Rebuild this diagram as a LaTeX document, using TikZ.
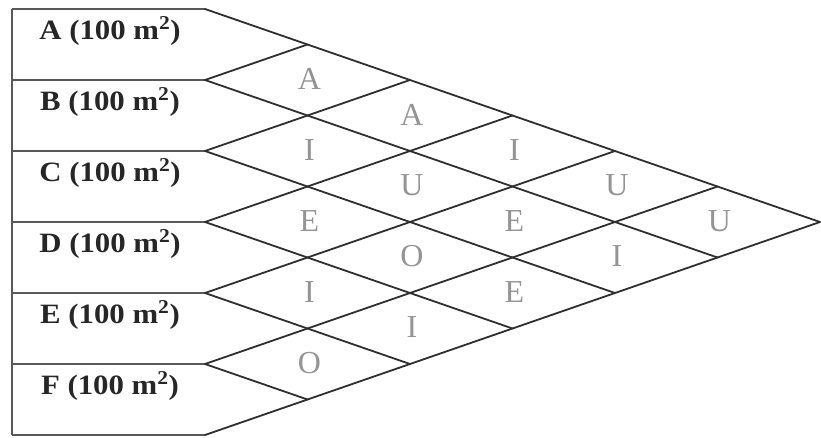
\documentclass[tikz,border=0pt]{standalone}
\usepackage{fontspec}
\setmainfont{Liberation Serif}
\usepackage{graphicx}
\tikzset{
  gridline/.style={line width=1.8pt, draw=black!82, line cap=round, line join=round},
  boxline/.style={line width=1.5pt, draw=black!65},
  rowlabel/.style={anchor=base, inner sep=0pt, text=black!85},
  rel/.style={anchor=center, inner sep=0pt, text=black!42, font=\fontsize{32}{32}\selectfont}
}
\newcommand{\rowlab}[1]{\scalebox{1.1}[1]{\fontsize{28}{30}\selectfont\bfseries #1 (100 m\textsuperscript{2})}}
\begin{document}
\begin{tikzpicture}[x=1pt,y=-1pt]
\useasboundingbox (0,0) rectangle (821,437);
% lattice points
\foreach \k in {0,...,6} {
  \pgfmathtruncatemacro\mm{6-\k}
  \foreach \m in {0,...,\mm} {
    \coordinate (p-\k-\m) at ({205+102.5*\k},{9+35.5*\k+71*\m});
  }
}
% left column points
\foreach \m in {0,...,6} {
  \coordinate (l-\m) at (12,{9+71*\m});
}
% left box
\draw[boxline] (l-0) -- (l-6);
\foreach \m in {0,...,6} {
  \draw[boxline] (l-\m) -- (p-0-\m);
}
% down-right lines
\foreach \m in {0,...,5} {
  \pgfmathtruncatemacro\e{6-\m}
  \draw[gridline] (p-0-\m) -- (p-\e-\m);
}
% up-right lines
\foreach \m in {1,...,6} {
  \draw[gridline] (p-0-\m) -- (p-\m-0);
}
% row labels
\foreach \m/\t in {0/A,1/B,2/C,3/D,4/E,5/F} {
  \node[rowlabel] (lab-\m) at (110,{9+71*\m+30}) {\rowlab{\t}};
}
% relationship letters
\foreach \i/\j/\t in {0/1/A,0/2/A,1/2/I,0/3/I,1/3/U,2/3/E,0/4/U,1/4/E,2/4/O,3/4/I,0/5/U,1/5/I,2/5/E,3/5/I,4/5/O} {
  \node[rel] (r-\i-\j) at ({207+102.5*(\j-\i)},{8+35.5*(\i+\j+1)}) {\t};
}
\end{tikzpicture}
\end{document}
